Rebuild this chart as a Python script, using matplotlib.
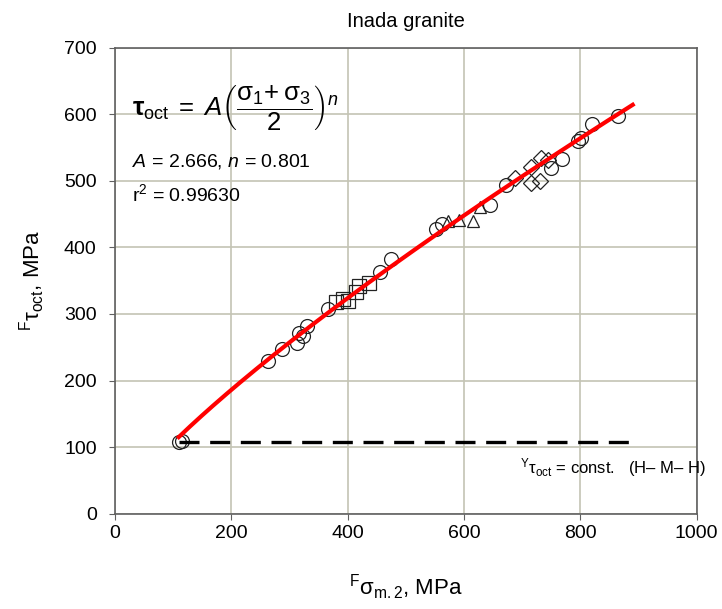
import numpy as np
import matplotlib
matplotlib.use("Agg")
import matplotlib.pyplot as plt

plt.rcParams['font.family'] = ['Liberation Sans', 'DejaVu Sans']
plt.rcParams['mathtext.fontset'] = 'custom'
plt.rcParams['mathtext.rm'] = 'Liberation Sans'
plt.rcParams['mathtext.it'] = 'Liberation Sans:italic'
plt.rcParams['mathtext.bf'] = 'Liberation Sans:bold'

# data (MPa)
circ_x = [110, 115, 263, 288, 314, 316, 324, 331, 366, 456, 475, 552, 562, 644, 673, 750, 768, 796, 802, 820, 865]
circ_y = [108, 109, 230, 248, 256, 272, 267, 282, 308, 363, 382, 427, 435, 464, 494, 519, 533, 560, 565, 585, 597]
sq_x = [380, 392, 400, 414, 420, 437]
sq_y = [318, 322, 320, 333, 342, 347]
tri_x = [572, 592, 615, 627]
tri_y = [440, 441, 440, 461]
dia_x = [687, 716, 715, 730, 733, 745]
dia_y = [504, 521, 496, 500, 535, 531]

A_fit = 2.666
n_fit = 0.801
fit_x = np.linspace(110, 890, 200)
fit_y = A_fit * fit_x ** n_fit
yield_x = [110, 890]
yield_y = [108, 108]

xticks = [0, 200, 400, 600, 800, 1000]
yticks = [0, 100, 200, 300, 400, 500, 600, 700]

fig = plt.figure(figsize=(7.22, 6.09), dpi=100)
ax = fig.add_axes([0.1589, 0.1565, 0.8061, 0.7652])

ax.set_xlim(0, 1000)
ax.set_ylim(0, 700)
ax.set_xticks(xticks)
ax.set_yticks(yticks)
ax.grid(True, color='#c4c4b4', linewidth=1.2)
ax.set_axisbelow(True)
for s in ax.spines.values():
    s.set_color('#606060')
    s.set_linewidth(1.2)
ax.tick_params(direction='out', length=4, color='#606060', labelsize=14)
ax.tick_params(axis='y', pad=9)
ax.tick_params(axis='x', pad=4)

mk = dict(linestyle='none', markerfacecolor='none', markeredgecolor='#222222', markeredgewidth=0.9)
ax.plot(circ_x, circ_y, marker='o', markersize=10, **mk)
ax.plot(sq_x, sq_y, marker='s', markersize=9.5, **mk)
ax.plot(tri_x, tri_y, marker='^', markersize=9, **mk)
ax.plot(dia_x, dia_y, marker='D', markersize=8.5, **mk)

ax.plot(yield_x, yield_y, color='black', linewidth=2.4, dashes=(6, 3.2))
ax.plot(fit_x, fit_y, color='red', linewidth=3)

ax.set_title('Inada granite', fontsize=14.5, pad=15)
ax.set_xlabel(r'$^{\rm F}\mathrm{σ}_{\rm m.2}$, MPa', fontsize=16, labelpad=22)
ax.set_ylabel(r'$^{\rm F}\mathrm{τ}_{\rm oct}$, MPa', fontsize=16, labelpad=12)

ax.text(0.03, 0.87, r'$\mathbf{τ}_{\rm oct}\;=\;A\left(\dfrac{\mathrm{σ}_1\!+\mathrm{σ}_3}{2}\right)^{n}$',
        transform=ax.transAxes, fontsize=18.5, va='center', ha='left')
ax.text(0.03, 0.755, r'$A$ = 2.666, $n$ = 0.801', transform=ax.transAxes, fontsize=14, va='center')
ax.text(0.03, 0.685, r'r$^2$ = 0.99630', transform=ax.transAxes, fontsize=14, va='center')
ax.text(0.696, 0.098, r'$^{\rm Y}\mathrm{τ}_{\rm oct}$ = const.   (H– M– H)', transform=ax.transAxes,
        fontsize=12, va='center', ha='left')

fig.savefig('out.png', dpi=100)
